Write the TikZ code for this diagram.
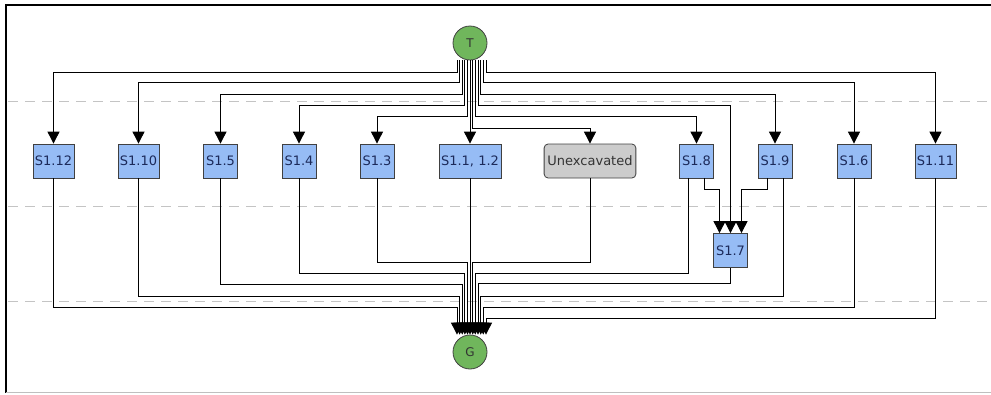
\documentclass[tikz,border=0pt]{standalone}
\usepackage{fontspec}
\setmainfont{DejaVu Sans}
\usetikzlibrary{arrows.meta}

\definecolor{unitblue}{RGB}{150,188,245}
\definecolor{unittext}{RGB}{28,42,90}
\definecolor{unexgray}{RGB}{204,204,204}
\definecolor{endgreen}{RGB}{112,182,92}
\definecolor{edgeline}{RGB}{64,64,64}
\definecolor{phaseline}{RGB}{196,196,196}

\begin{document}
\begin{tikzpicture}[x=1pt,y=-1pt,
  font=\fontsize{13}{15}\selectfont,
  unit/.style={draw=edgeline,line width=0.8pt,fill=unitblue,text=unittext,
               minimum width=34pt,minimum height=34pt,inner xsep=2pt},
  unex/.style={draw=edgeline,line width=0.8pt,fill=unexgray,text=black!80,rounded corners=4pt,
               minimum width=90pt,minimum height=34pt},
  term/.style={circle,draw=edgeline,line width=0.8pt,fill=endgreen,text=black!80,
               minimum size=34pt,inner sep=0pt,font=\fontsize{12}{14}\selectfont},
  ar/.style={-{Triangle[length=12pt,width=12pt]},line width=0.9pt,black},
  phase/.style={phaseline,line width=0.8pt,dash pattern=on 10pt off 7pt}]

\useasboundingbox (0,0) rectangle (991,394);

% frame and phase separators
\draw[line width=1.6pt] (991,5) -- (6,5) -- (6,393);
\draw[black!25] (6,392) -- (991,392);
\draw[phase] (8,101) -- (991,101);
\draw[phase] (8,206) -- (991,206);
\draw[phase] (8,301) -- (991,301);

% start and end
\node[term] (T) at (470,43) {T};
\node[term] (G) at (470,352) {G};

% contexts
\node[unit] (S112) at (53.5,161) {S1.12};
\node[unit] (S110) at (138.5,161) {S1.10};
\node[unit] (S15) at (220.5,161) {S1.5};
\node[unit] (S14) at (299,161) {S1.4};
\node[unit] (S13) at (377,161) {S1.3};
\node[unit] (S11) at (470,161) {S1.1, 1.2};
\node[unex] (unx) at (590,161) {Unexcavated};
\node[unit] (S18) at (696.5,161) {S1.8};
\node[unit] (S19) at (775,161) {S1.9};
\node[unit] (S16) at (854,161) {S1.6};
\node[unit] (S111) at (935.5,161) {S1.11};
\node[unit] (S17) at (730.5,250.5) {S1.7};

% T to contexts
\draw[ar] ([xshift=-13pt]T.south) -- ++(0,12) -| (S112.north);
\draw[ar] ([xshift=-10.4pt]T.south) -- ++(0,22) -| (S110.north);
\draw[ar] ([xshift=-7.7pt]T.south) -- ++(0,34) -| (S15.north);
\draw[ar] ([xshift=-5.1pt]T.south) -- ++(0,45) -| (S14.north);
\draw[ar] ([xshift=-2.5pt]T.south) -- ++(0,56) -| (S13.north);
\draw[ar] (T.south) -- (S11.north);
\draw[ar] ([xshift=2.7pt]T.south) -- ++(0,68) -| (unx.north);
\draw[ar] ([xshift=5.3pt]T.south) -- ++(0,56) -| (S18.north);
\draw[ar] ([xshift=8pt]T.south) -- ++(0,45) -| (S17.north);
\draw[ar] ([xshift=10.7pt]T.south) -- ++(0,34) -| (S19.north);
\draw[ar] ([xshift=13.3pt]T.south) -- ++(0,22) -| (S16.north);
\draw[ar] ([xshift=16pt]T.south) -- ++(0,12) -| (S111.north);

% into S1.7
\draw[ar] ([xshift=8pt]S18.south) -- ++(0,11) -| ([xshift=-11pt]S17.north);
\draw[ar] ([xshift=-8pt]S19.south) -- ++(0,11) -| ([xshift=11pt]S17.north);

% contexts to G
\draw[ar] (S112.south) -- ++(0,129) -| ([xshift=-13pt]G.north);
\draw[ar] (S110.south) -- ++(0,118) -| ([xshift=-10.4pt]G.north);
\draw[ar] (S15.south) -- ++(0,106) -| ([xshift=-7.7pt]G.north);
\draw[ar] (S14.south) -- ++(0,95) -| ([xshift=-5.1pt]G.north);
\draw[ar] (S13.south) -- ++(0,84) -| ([xshift=-2.5pt]G.north);
\draw[ar] (S11.south) -- (G.north);
\draw[ar] (unx.south) -- ++(0,84) -| ([xshift=2.7pt]G.north);
\draw[ar] ([xshift=-8pt]S18.south) -- ++(0,95) -| ([xshift=5.3pt]G.north);
\draw[ar] (S17.south) -- ++(0,16) -| ([xshift=8pt]G.north);
\draw[ar] ([xshift=8pt]S19.south) -- ++(0,118) -| ([xshift=10.7pt]G.north);
\draw[ar] (S16.south) -- ++(0,129) -| ([xshift=13.3pt]G.north);
\draw[ar] (S111.south) -- ++(0,140) -| ([xshift=16pt]G.north);
\end{tikzpicture}
\end{document}
